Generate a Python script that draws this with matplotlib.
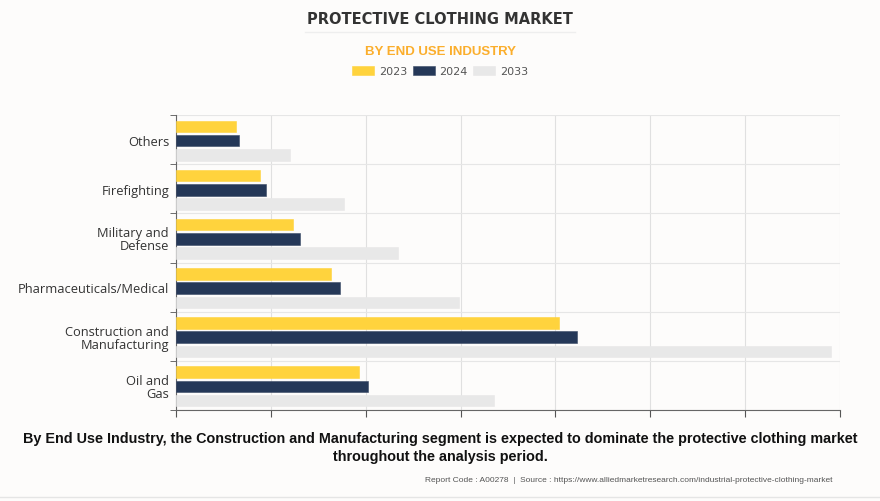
import matplotlib
matplotlib.use("Agg")
import matplotlib.pyplot as plt
import numpy as np

categories = ["Oil and\nGas", "Construction and\nManufacturing", "Pharmaceuticals/Medical",
              "Military and\nDefense", "Firefighting", "Others"]
years = ["2023", "2024", "2033"]
v2023 = [1.93, 4.04, 1.63, 1.23, 0.89, 0.63]
v2024 = [2.02, 4.23, 1.73, 1.31, 0.95, 0.66]
v2033 = [3.35, 6.90, 2.98, 2.34, 1.77, 1.20]
colors = ["#FFD33D", "#253858", "#E8E8E8"]

bg = "#FDFCFB"
fig = plt.figure(figsize=(8.8, 5.02), dpi=100, facecolor=bg)
ax = fig.add_axes([176/880, 1-411/502, (840-176)/880, (411-116)/502])
ax.set_facecolor(bg)

y = np.arange(len(categories))
h = 0.235
off = 0.29
for i, (vals, c) in enumerate(zip([v2023, v2024, v2033], colors)):
    ax.barh(y + off*(1-i) - 0.02, vals, height=h, color=c, label=years[i], zorder=3,
            edgecolor="#3b4a66" if i == 1 else c, linewidth=0.4)

ax.set_ylim(-0.5, len(categories)-0.5)
ax.set_xlim(0, 7)
ax.set_xticks(np.arange(0, 8, 1))
ax.set_xticklabels([])
ax.set_yticks(y)
ax.set_yticklabels(categories, fontsize=9.3, color="#333333", family="Open Sans", linespacing=1.0)
ax.set_yticks(np.arange(-0.5, len(categories), 1), minor=True)
ax.tick_params(axis="y", which="major", length=0, pad=5)
ax.tick_params(axis="y", which="minor", length=4, color="#555555")
ax.tick_params(axis="x", length=5, color="#555555")
ax.grid(axis="x", color="#E0E0E0", linewidth=0.8, zorder=0)
ax.grid(axis="y", which="minor", color="#E6E6E6", linewidth=0.8, zorder=0)
for s in ["top", "right"]:
    ax.spines[s].set_visible(False)
ax.spines["left"].set_color("#666666")
ax.spines["bottom"].set_color("#666666")
ax.spines["left"].set_linewidth(0.8)
ax.spines["bottom"].set_linewidth(0.8)

fig.text(0.5, 1-19/502, "PROTECTIVE CLOTHING MARKET", ha="center", va="center",
         fontsize=10.5, fontweight="bold", color="#333333", family="DejaVu Sans")
fig.add_artist(plt.Line2D([305/880, 575/880], [1-33/502, 1-33/502], color="#EEEEEE", linewidth=1))
fig.text(0.5, 1-52/502, "BY END USE INDUSTRY", ha="center", va="center",
         fontsize=9.5, fontweight="bold", color="#FBAE2C", family="Liberation Sans")

leg = fig.legend(*ax.get_legend_handles_labels(), loc="center", bbox_to_anchor=(0.5, 1-72/502),
                 ncol=3, frameon=False, fontsize=8, handlelength=2.0, handleheight=0.9,
                 columnspacing=0.5, handletextpad=0.4, labelcolor="#555555")

fig.text(0.5, 1-448/502, "By End Use Industry, the Construction and Manufacturing segment is expected to dominate the protective clothing market\nthroughout the analysis period.",
         ha="center", va="center", fontsize=10.4, fontweight="bold", color="#111111",
         family="Liberation Sans", linespacing=1.3)
fig.text(832/880, 1-481/502, "Report Code : A00278  |  Source : https://www.alliedmarketresearch.com/industrial-protective-clothing-market",
         ha="right", va="center", fontsize=6.0, color="#555555", family="Liberation Sans")
fig.add_artist(plt.Line2D([0, 1], [1-498/502, 1-498/502], color="#E5E5E5", linewidth=1))

fig.savefig("out.png", dpi=100, facecolor=bg)
